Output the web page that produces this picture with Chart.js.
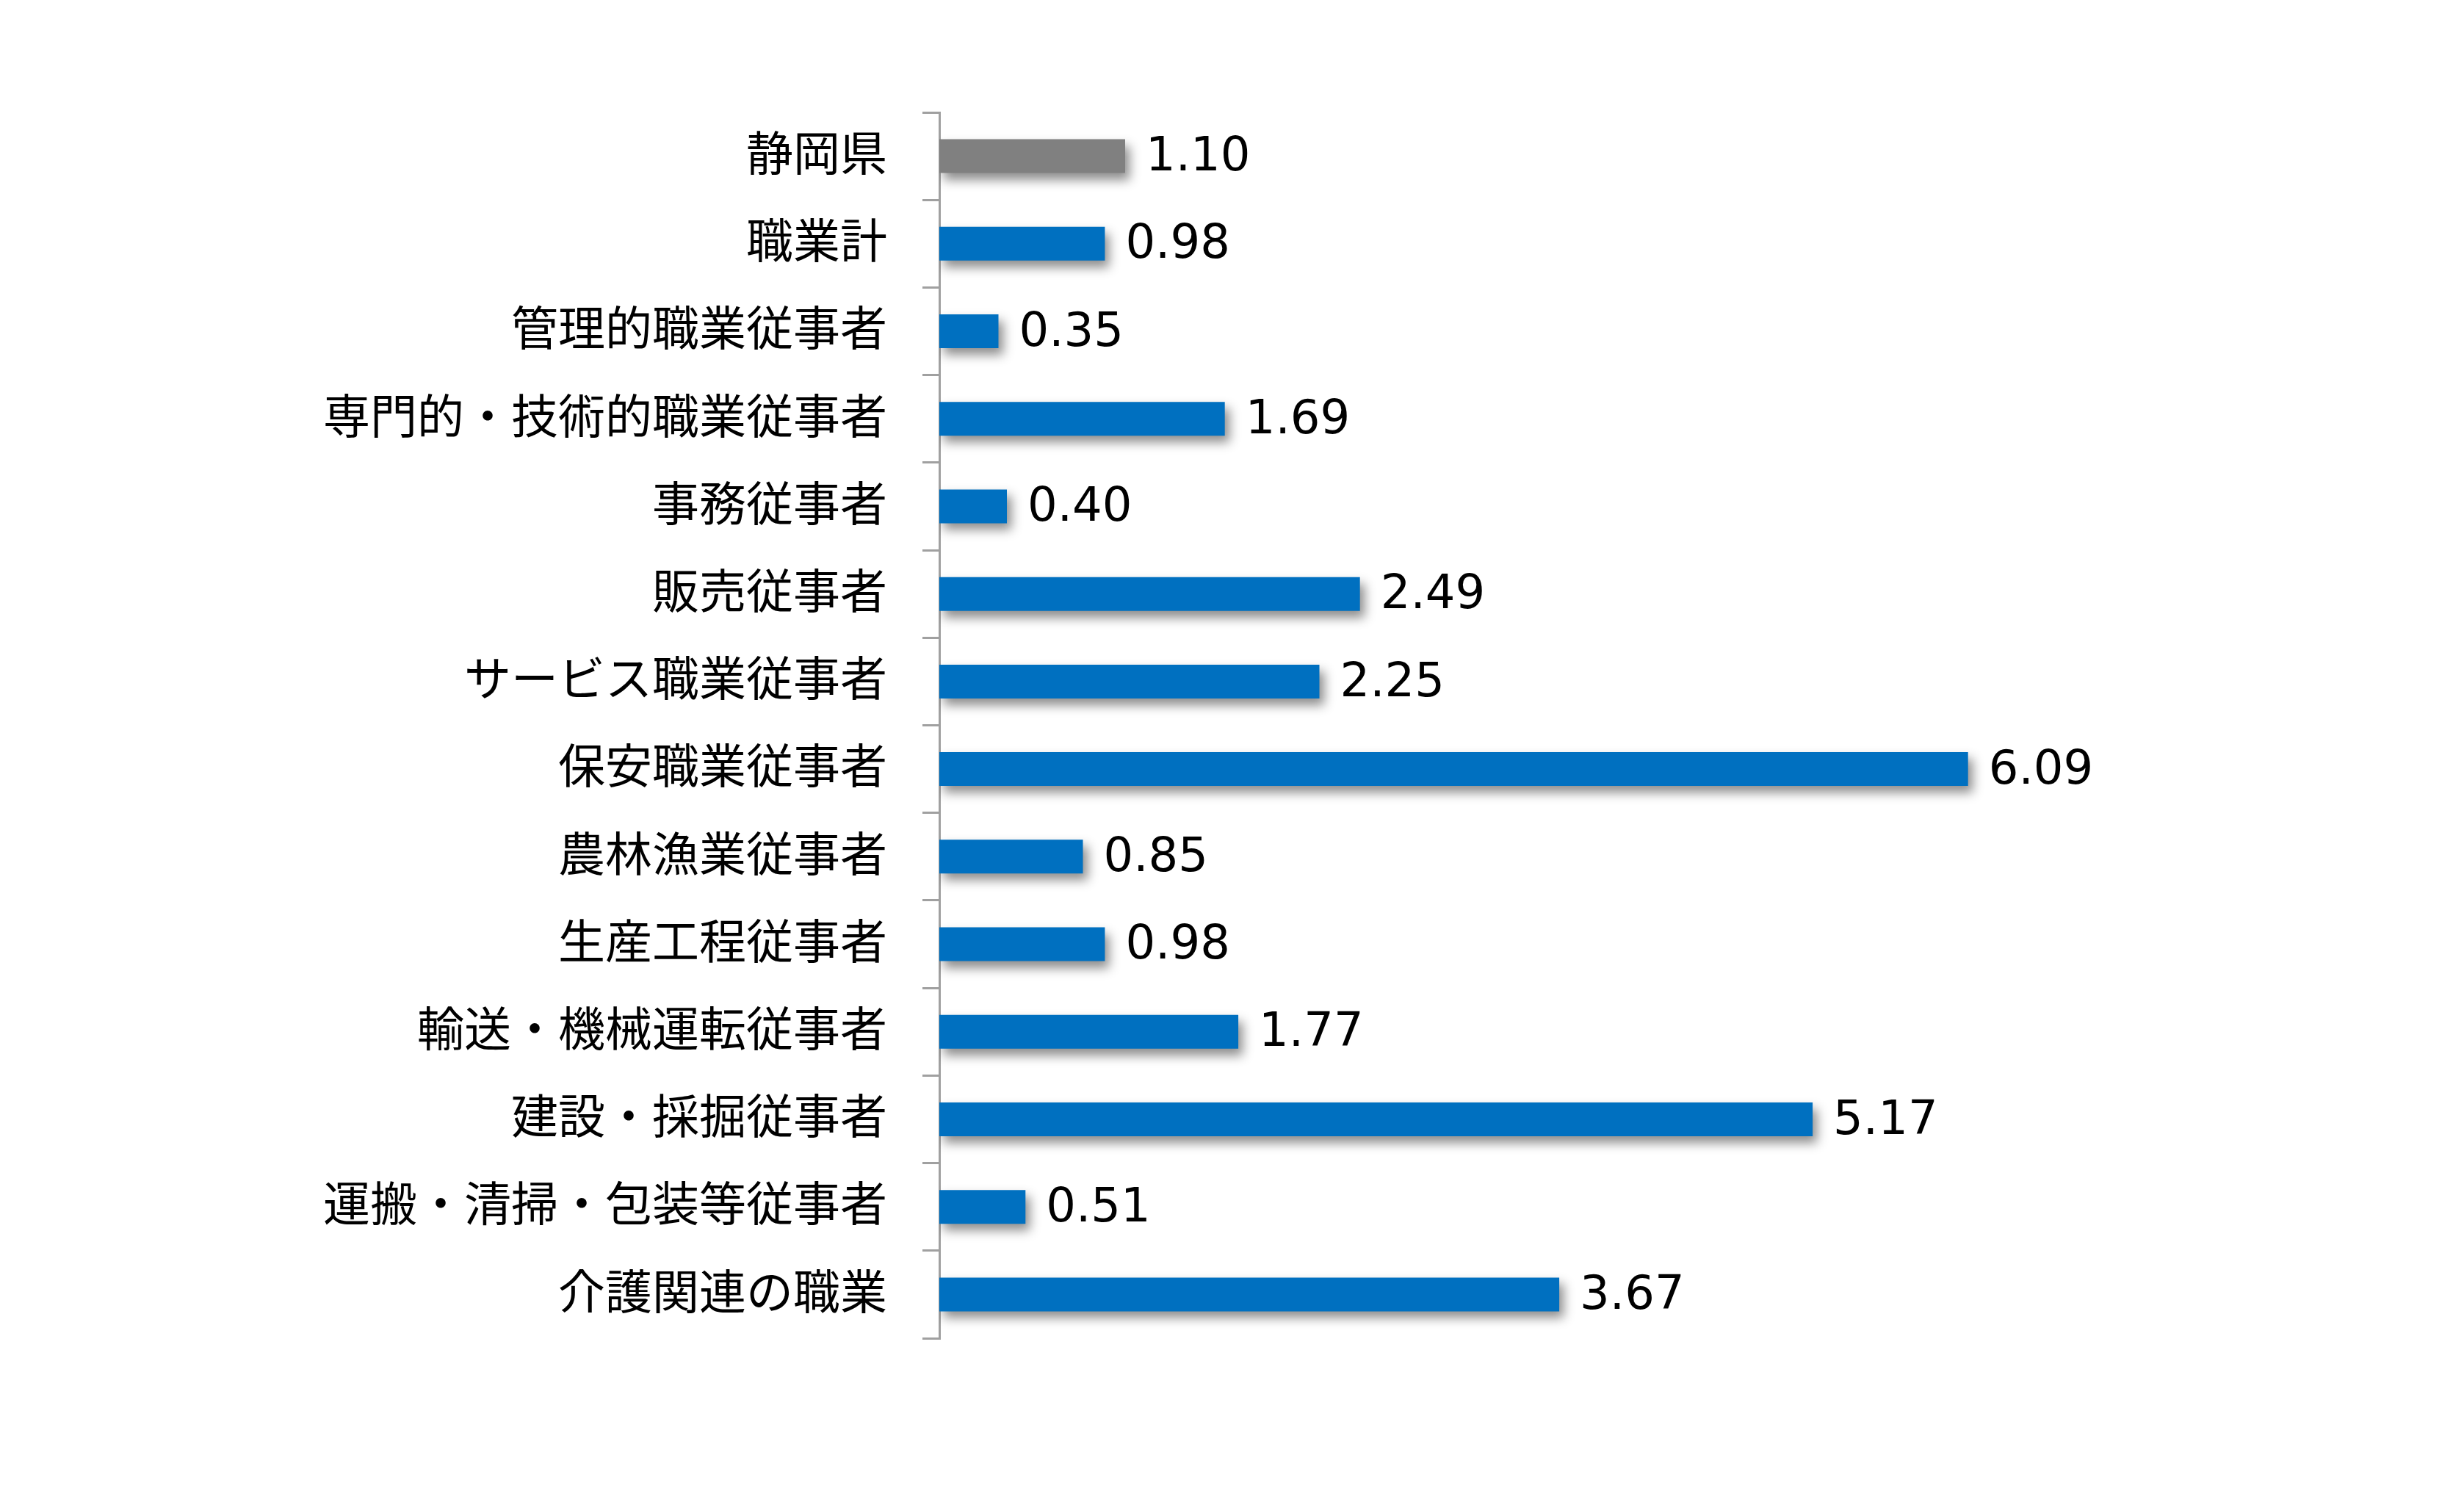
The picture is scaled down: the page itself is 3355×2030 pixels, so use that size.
<!DOCTYPE html>
<html>
<head>
<meta charset="utf-8">
<script src="https://cdn.jsdelivr.net/npm/chart.js@4/dist/chart.umd.min.js"></script>
<style>
  html, body { margin: 0; padding: 0; background: #ffffff; }
  #wrap { width: 3355px; height: 2030px; position: relative; }
</style>
</head>
<body>
<div id="wrap"><canvas id="c" width="3355" height="2030"></canvas></div>
<script>
const categories = [
  "静岡県",
  "職業計",
  "管理的職業従事者",
  "専門的・技術的職業従事者",
  "事務従事者",
  "販売従事者",
  "サービス職業従事者",
  "保安職業従事者",
  "農林漁業従事者",
  "生産工程従事者",
  "輸送・機械運転従事者",
  "建設・採掘従事者",
  "運搬・清掃・包装等従事者",
  "介護関連の職業"
];
const values = [1.10, 0.98, 0.35, 1.69, 0.40, 2.49, 2.25, 6.09, 0.85, 0.98, 1.77, 5.17, 0.51, 3.67];
const valueLabels = ["1.10", "0.98", "0.35", "1.69", "0.40", "2.49", "2.25", "6.09", "0.85", "0.98", "1.77", "5.17", "0.51", "3.67"];
const prefIndex = 0;

const blue = "#0070C0";
const gray = "#808080";
const barColors = categories.map((c, i) => i === prefIndex ? gray : blue);

const shadowPlugin = {
  id: "barShadow",
  beforeDatasetsDraw(chart) {
    const ctx = chart.ctx;
    ctx.save();
    ctx.shadowColor = "rgba(0,0,0,0.45)";
    ctx.shadowBlur = 14;
    ctx.shadowOffsetX = 6;
    ctx.shadowOffsetY = 9;
  },
  afterDatasetsDraw(chart) {
    chart.ctx.restore();
    const ctx = chart.ctx;
    const meta = chart.getDatasetMeta(0);
    ctx.save();
    ctx.font = "64px 'DejaVu Sans'";
    ctx.fillStyle = "#000000";
    ctx.textAlign = "left";
    ctx.textBaseline = "middle";
    meta.data.forEach((bar, i) => {
      ctx.fillText(valueLabels[i], bar.x + 28, bar.y + 3);
    });
    ctx.restore();
  }
};

new Chart(document.getElementById("c"), {
  type: "bar",
  data: {
    labels: categories,
    datasets: [{
      data: values,
      backgroundColor: barColors,
      borderWidth: 0,
      categoryPercentage: 1.0,
      barPercentage: 0.386
    }]
  },
  plugins: [shadowPlugin],
  options: {
    indexAxis: "y",
    responsive: false,
    animation: false,
    devicePixelRatio: 1,
    layout: { padding: { left: 0, top: 153, bottom: 208, right: 466 } },
    plugins: {
      legend: { display: false },
      tooltip: { enabled: false }
    },
    scales: {
      x: {
        display: false,
        min: 0,
        max: 7
      },
      y: {
        afterFit(scale) { scale.width = 1279; },
        grid: {
          offset: true,
          drawOnChartArea: false,
          drawTicks: true,
          tickLength: 23,
          color: "#A0A0A0",
          lineWidth: 3
        },
        border: { display: true, color: "#A0A0A0", width: 3 },
        ticks: {
          color: "#000000",
          padding: 48,
          labelOffset: -5,
          font: { family: "'Noto Sans CJK JP'", size: 64 }
        }
      }
    }
  }
});
</script>
</body>
</html>
